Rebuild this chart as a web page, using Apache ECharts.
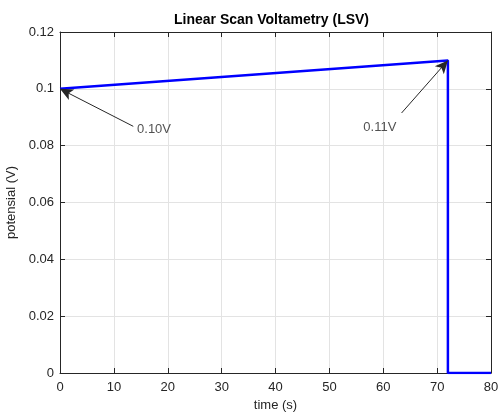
<!DOCTYPE html>
<html><head><meta charset="utf-8">
<script src="https://cdn.jsdelivr.net/npm/echarts@6/dist/echarts.min.js"></script>
<style>html,body{margin:0;padding:0;background:#fff}#c{width:499px;height:412px}</style>
</head><body><div id="c"></div>
<script>
const timeValues = [0, 72, 72, 80];
const potentialValues = [0.10, 0.11, 0, 0];
const annotations = [
  {text: '0.10V', point: [0, 0.10], tail: [13.6, 0.0868]},
  {text: '0.11V', point: [72, 0.11], tail: [63.4, 0.0915]}
];
const labelPositions = [[14.3, 0.0857], [56.3, 0.0865]];
const xTicks = {min: 0, max: 80, interval: 10};
const yTicks = {min: 0, max: 0.12, interval: 0.02};

const font = 'Liberation Sans, Arial, Helvetica, sans-serif';
const axisCol = '#262626';
const chart = echarts.init(document.getElementById('c'), null, {renderer: 'canvas'});
const baseAxis = {
  axisLine: {show: true, onZero: false, lineStyle: {color: axisCol, width: 1}},
  axisTick: {show: true, inside: true, length: 5, lineStyle: {color: axisCol}},
  splitLine: {show: false}
};
chart.setOption({
  animation: false,
  title: {text: 'Linear Scan Voltametry (LSV)', left: 174, top: 13, padding: 0,
    textStyle: {fontFamily: font, fontSize: 14, fontWeight: 'bold', color: '#000'}},
  grid: {left: 60, right: 8, top: 32, bottom: 39, containLabel: false, outerBoundsMode: 'none'},
  xAxis: [
    Object.assign({}, baseAxis, {type: 'value', position: 'bottom', min: xTicks.min, max: xTicks.max, interval: xTicks.interval,
      name: 'time (s)', nameLocation: 'middle', nameGap: 26,
      nameTextStyle: {fontFamily: font, fontSize: 13, color: axisCol},
      axisLabel: {fontFamily: font, fontSize: 13, color: axisCol, margin: 8},
      splitLine: {show: true, lineStyle: {color: '#e3e3e3', width: 1}}}),
    Object.assign({}, baseAxis, {type: 'value', position: 'top', min: xTicks.min, max: xTicks.max, interval: xTicks.interval,
      axisLabel: {show: false}})
  ],
  yAxis: [
    Object.assign({}, baseAxis, {type: 'value', position: 'left', min: yTicks.min, max: yTicks.max, interval: yTicks.interval,
      name: 'potensial (V)', nameLocation: 'middle', nameGap: 37,
      nameTextStyle: {fontFamily: font, fontSize: 13, color: axisCol},
      axisLabel: {fontFamily: font, fontSize: 13, color: axisCol, margin: 6},
      splitLine: {show: true, lineStyle: {color: '#e3e3e3', width: 1}}}),
    Object.assign({}, baseAxis, {type: 'value', position: 'right', min: yTicks.min, max: yTicks.max, interval: yTicks.interval,
      axisLabel: {show: false}})
  ],
  series: [
    {
      type: 'line', xAxisIndex: 0, yAxisIndex: 0,
      data: timeValues.map((t, i) => [t, potentialValues[i]]),
      showSymbol: false, symbol: 'none',
      lineStyle: {color: '#0000ff', width: 2.5},
      z: 2
    },
    {
      type: 'line', xAxisIndex: 0, yAxisIndex: 0, data: [], z: 5,
      markLine: {
        silent: true,
        symbol: ['none', 'arrow'],
        symbolSize: [9, 13],
        lineStyle: {color: '#262626', width: 1, type: 'solid'},
        itemStyle: {color: '#000'},
        label: {show: false},
        data: annotations.map(a => [{coord: a.tail}, {coord: a.point}])
      }
    },
    {
      type: 'scatter', xAxisIndex: 0, yAxisIndex: 0, symbolSize: 0,
      data: annotations.map((a, i) => ({value: labelPositions[i], name: a.text})),
      label: {show: true, position: 'right', distance: 0, formatter: p => p.name,
        fontFamily: font, fontSize: 13, color: '#262626'}
    }
  ]
});
</script></body></html>
